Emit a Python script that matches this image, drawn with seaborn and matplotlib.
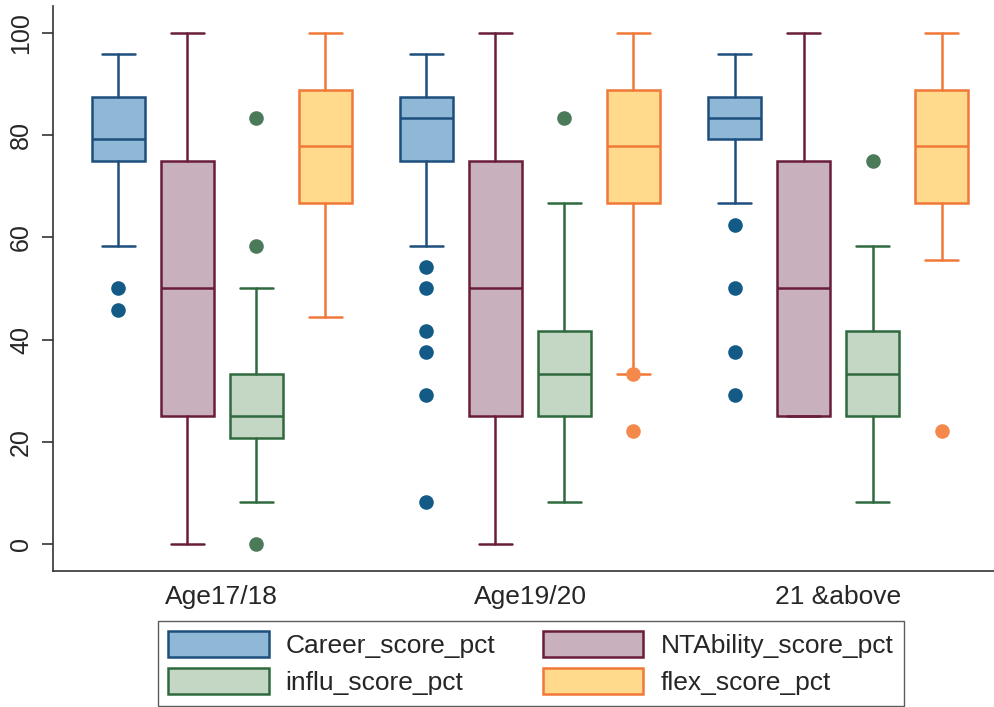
import seaborn as sns
import matplotlib.pyplot as plt
from matplotlib.patches import Patch

sns.set_style('white')
plt.rcParams['font.family'] = ['Liberation Sans', 'DejaVu Sans']

groups = ['Age17/18', 'Age19/20', '21 &above']
series = ['Career_score_pct', 'NTAbility_score_pct', 'influ_score_pct', 'flex_score_pct']

# box stats per group
career_lo = [58.3, 58.3, 66.7]
career_q1 = [75.0, 75.0, 79.2]
career_med = [79.2, 83.3, 83.3]
career_q3 = [87.5, 87.5, 87.5]
career_hi = [95.8, 95.8, 95.8]
career_out = [[50.0, 45.8], [54.2, 50.0, 41.7, 37.5, 29.2, 8.3], [62.5, 50.0, 37.5, 29.2]]

nt_lo = [0.0, 0.0, 25.0]
nt_q1 = [25.0, 25.0, 25.0]
nt_med = [50.0, 50.0, 50.0]
nt_q3 = [75.0, 75.0, 75.0]
nt_hi = [100.0, 100.0, 100.0]
nt_out = [[], [], []]

influ_lo = [8.3, 8.3, 8.3]
influ_q1 = [20.8, 25.0, 25.0]
influ_med = [25.0, 33.3, 33.3]
influ_q3 = [33.3, 41.7, 41.7]
influ_hi = [50.0, 66.7, 58.3]
influ_out = [[83.3, 58.3, 0.0], [83.3], [75.0]]

flex_lo = [44.4, 33.3, 55.6]
flex_q1 = [66.7, 66.7, 66.7]
flex_med = [77.8, 77.8, 77.8]
flex_q3 = [88.9, 88.9, 88.9]
flex_hi = [100.0, 100.0, 100.0]
flex_out = [[], [33.3, 22.2], [22.2]]

stats_all = [
    (career_lo, career_q1, career_med, career_q3, career_hi, career_out),
    (nt_lo, nt_q1, nt_med, nt_q3, nt_hi, nt_out),
    (influ_lo, influ_q1, influ_med, influ_q3, influ_hi, influ_out),
    (flex_lo, flex_q1, flex_med, flex_q3, flex_hi, flex_out),
]

fills = ['#8fb7d6', '#c8b1bd', '#c4d6c4', '#ffd98c']
edges = ['#1d4f7d', '#6a1d3b', '#2f6a3e', '#f07838']
dots = ['#135b86', '#6a1d3b', '#4b7a58', '#f5894c']
offsets = [-0.336, -0.112, 0.112, 0.336]

fig = plt.figure(figsize=(9.94, 7.07), dpi=100)
ax = fig.add_axes([0.053, 0.192, 0.947, 0.8])

for k, (lo, q1, med, q3, hi, out) in enumerate(stats_all):
    stats = []
    for g in range(len(groups)):
        stats.append({'whislo': lo[g], 'q1': q1[g], 'med': med[g], 'q3': q3[g],
                      'whishi': hi[g], 'fliers': out[g]})
    pos = [g + offsets[k] for g in range(len(groups))]
    ax.bxp(stats, positions=pos, widths=0.172, capwidths=0.108, patch_artist=True,
           showfliers=True, manage_ticks=False,
           boxprops=dict(facecolor=fills[k], edgecolor=edges[k], linewidth=1.8),
           medianprops=dict(color=edges[k], linewidth=1.8),
           whiskerprops=dict(color=edges[k], linewidth=1.8),
           capprops=dict(color=edges[k], linewidth=1.8),
           flierprops=dict(marker='o', markersize=10.5, markerfacecolor=dots[k],
                           markeredgecolor='none'))

ax.set_xlim(-0.549, 2.506)
ax.set_ylim(-5.3, 105.3)
ax.set_xticks(range(len(groups)))
ax.set_xticklabels(groups, fontsize=19)
ax.set_yticks([0, 20, 40, 60, 80, 100])
ax.set_yticklabels(['0', '20', '40', '60', '80', '100'], fontsize=18, rotation=90, va='center')
ax.tick_params(axis='x', length=0, pad=10)
ax.tick_params(axis='y', left=True, length=8, width=1.2, color='#333333', pad=6)
sns.despine(ax=ax, top=True, right=True)
ax.spines['left'].set_color('#333333')
ax.spines['bottom'].set_color('#333333')
ax.spines['left'].set_linewidth(1.2)
ax.spines['bottom'].set_linewidth(1.2)

order = [0, 2, 1, 3]
handles = [Patch(facecolor=fills[i], edgecolor=edges[i], linewidth=1.8, label=series[i]) for i in order]
fig.legend(handles=handles, loc='upper center', bbox_to_anchor=(0.534, 0.122), ncol=2,
           fontsize=19, frameon=True, fancybox=False, edgecolor='#333333',
           handlelength=3.8, handleheight=1.1, handletextpad=0.65, columnspacing=1.8,
           labelspacing=0.4, borderpad=0.4, borderaxespad=0)

fig.savefig('out.png', dpi=100, facecolor='white')
